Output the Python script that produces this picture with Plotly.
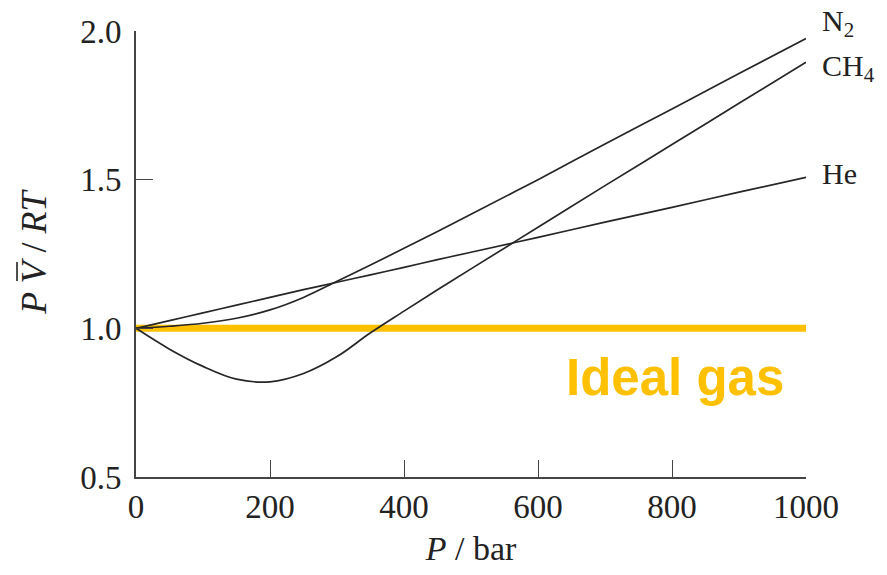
import plotly.graph_objects as go

# Compression factor PV/RT versus pressure for three real gases
pressure = [0, 50, 100, 150, 200, 250, 300, 350, 400, 450, 500, 600, 700, 800, 900, 1000]
n2 = [1.0, 1.007, 1.017, 1.034, 1.062, 1.104, 1.158, 1.213, 1.269, 1.326, 1.384, 1.50, 1.62, 1.738, 1.857, 1.975]
ch4 = [1.0, 0.93, 0.872, 0.829, 0.82, 0.848, 0.905, 0.985, 1.058, 1.13, 1.20, 1.34, 1.48, 1.618, 1.757, 1.895]
he = [1.0, 1.026, 1.052, 1.078, 1.104, 1.13, 1.155, 1.18, 1.205, 1.231, 1.256, 1.306, 1.357, 1.407, 1.458, 1.508]
ideal_p = [0, 1000]
ideal = [1.0, 1.0]

series = [("N<sub>2</sub>", n2, 2.0, 8), ("CH<sub>4</sub>", ch4, 1.875, 0), ("He", he, 1.52, 0)]

fig = go.Figure()
fig.add_trace(go.Scatter(x=ideal_p, y=ideal, mode="lines",
                         line=dict(color="#FFC000", width=7), hoverinfo="skip"))
for name, vals, _, _ in series:
    fig.add_trace(go.Scatter(x=pressure, y=vals, mode="lines", name=name,
                             line=dict(color="#262626", width=1.7, shape="spline", smoothing=1.0)))

serif = "Liberation Serif, Times New Roman, serif"
for name, vals, ly, shift in series:
    fig.add_annotation(x=1000, y=ly, xref="x", yref="y", text=name,
                       showarrow=False, xanchor="left", xshift=14, yshift=shift, yanchor="middle",
                       font=dict(family=serif, size=30, color="#222"))

fig.add_annotation(x=804, y=0.835, xref="x", yref="y", text="<b>Ideal gas</b>",
                   showarrow=False, xanchor="center", yanchor="middle",
                   font=dict(family="Liberation Sans, Arial, sans-serif", size=51, color="#FFC000"))

# rotated axis title: molar volume V carries a bar, drawn as a short stroke over the letter
fig.add_annotation(x=-0.185, y=0.505, xref="paper", yref="paper",
                   text="<i>P V</i> / <i>RT</i>",
                   textangle=-90, showarrow=False,
                   font=dict(family=serif, size=36, color="#222"))
fig.add_shape(type="line", xref="paper", yref="paper",
              x0=-0.1776, x1=-0.1776, y0=0.4395, y1=0.482,
              line=dict(color="#222", width=1.6))

axis_common = dict(ticks="inside", ticklen=17, tickwidth=1.4, tickcolor="#444",
                   showline=True, linecolor="#444", linewidth=1.6, showgrid=False, zeroline=False,
                   tickfont=dict(family=serif, size=33, color="#222"))

fig.update_layout(
    width=887, height=575,
    margin=dict(l=136, r=81, t=31, b=98),
    paper_bgcolor="white", plot_bgcolor="white",
    showlegend=False,
    xaxis=dict(range=[0, 1000], tickvals=[0, 200, 400, 600, 800, 1000], ticklabelstandoff=0,
               title=dict(text="<i>P</i> / bar", font=dict(family=serif, size=34, color="#222"), standoff=12),
               **axis_common),
    yaxis=dict(range=[0.5, 2.0], tickvals=[0.5, 1.0, 1.5, 2.0], ticktext=["0.5", "1.0", "1.5", "2.0"],
               ticklabelstandoff=6, **axis_common),
)

fig.write_html("out.html")
